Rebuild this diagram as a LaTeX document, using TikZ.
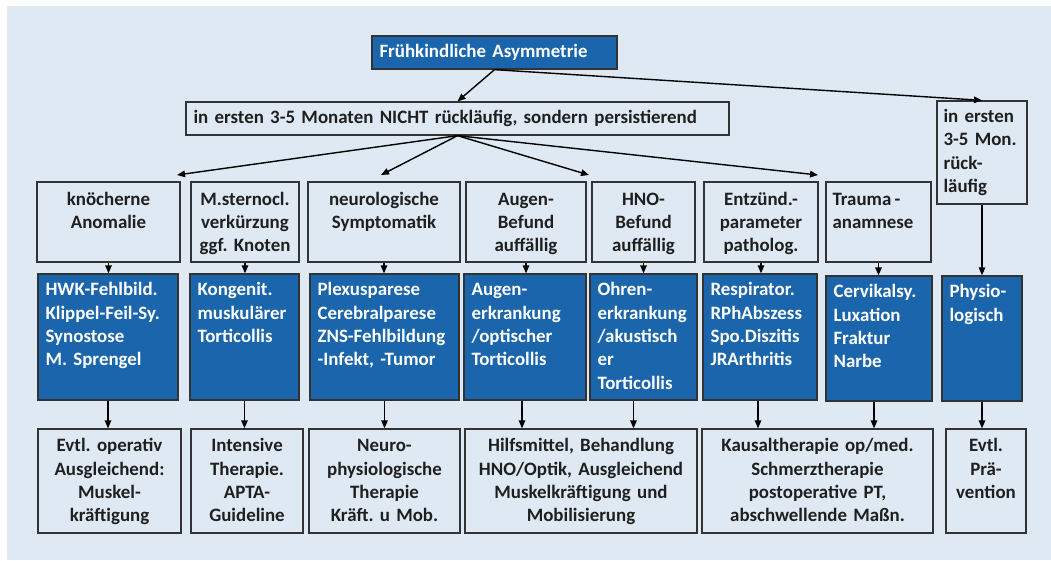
\documentclass[tikz,border=0pt]{standalone}
\usepackage{fontspec}
\setmainfont{Carlito}
\usetikzlibrary{arrows.meta,fit}
\definecolor{bgc}{HTML}{DFE9F3}
\definecolor{bluec}{HTML}{1A65AB}
\definecolor{edgec}{HTML}{333333}
\definecolor{txtc}{HTML}{1F1F1F}
\frenchspacing
\begin{document}
\begin{tikzpicture}[x=1pt,y=-1pt,
  font=\bfseries\fontsize{18.9}{23.3}\selectfont,
  frame/.style={draw=edgec, line width=1.3pt, inner sep=0pt},
  wbox/.style={frame},
  bbox/.style={frame, fill=bluec},
  arr/.style={-{Triangle[length=8pt,width=6.5pt]}, line width=1.4pt, draw=black},
  ctxt/.style={anchor=base, align=center, inner sep=0pt, text=txtc},
  ltxt/.style={anchor=base west, align=left, inner sep=0pt, text=txtc},
  wtxt/.style={anchor=base west, align=left, inner sep=0pt, text=white}]
\useasboundingbox (0,0) rectangle (1051,560);
\fill[white] (0,0) rectangle (1051,560);
\fill[bgc] (7,6) rectangle (1051,560);

% top
\node[bbox, fit={(372,36) (617,69)}] (title) {};
\node[wtxt, text width=235pt] (titlet) at ([xshift=8pt,yshift=-22.3pt]title.north west) {Frühkindliche Asymmetrie};
\node[wbox, fit={(186,102) (729,135)}] (sec) {};
\node[ltxt, text width=535pt] (sect) at ([xshift=8pt,yshift=-22pt]sec.north west) {in ersten 3-5 Monaten NICHT rückläufig, sondern persistierend};
\node[wbox, fit={(937,101) (1027,204)}] (rb) {};
\node[ltxt, text width=86pt] (rbt) at ([xshift=7pt,yshift=-22.3pt]rb.north west) {in ersten\\3-5 Mon.\\rück-\\läufig};

% category row
\node[wbox, fit={(37,182) (180,262)}] (c1) {};
\node[wbox, fit={(191,182) (299,262)}] (c2) {};
\node[wbox, fit={(308,182) (460,262)}] (c3) {};
\node[wbox, fit={(466,182) (586,262)}] (c4) {};
\node[wbox, fit={(592,182) (695,262)}] (c5) {};
\node[wbox, fit={(704,182) (818,262)}] (c6) {};
\node[wbox, fit={(826,182) (931,262)}] (c7) {};
\node[ctxt, text width=140pt] (c1t) at ([yshift=-23.7pt]c1.north) {knöcherne\\Anomalie};
\node[ctxt, text width=106pt] (c2t) at ([yshift=-23.7pt]c2.north) {M.sternocl.\\verkürzung\\ggf. Knoten};
\node[ctxt, text width=150pt] (c3t) at ([yshift=-23.7pt]c3.north) {neurologische\\Symptomatik};
\node[ctxt, text width=118pt] (c4t) at ([yshift=-23.7pt]c4.north) {Augen-\\Befund\\auffällig};
\node[ctxt, text width=101pt] (c5t) at ([yshift=-23.7pt]c5.north) {HNO-\\Befund\\auffällig};
\node[ctxt, text width=112pt] (c6t) at ([yshift=-23.7pt]c6.north) {Entzünd.-\\parameter\\patholog.};
\node[ltxt, text width=97pt] (c7t) at ([xshift=7pt,yshift=-23.7pt]c7.north west) {Trauma\,-\\anamnese};

% blue row
\node[bbox, fit={(38,274) (178,400)}] (b1) {};
\node[bbox, fit={(190,274) (299,400)}] (b2) {};
\node[bbox, fit={(310,274) (459,400)}] (b3) {};
\node[bbox, fit={(464,274) (586,400)}] (b4) {};
\node[bbox, fit={(590,274) (697,400)}] (b5) {};
\node[bbox, fit={(703,274) (817,400)}] (b6) {};
\node[bbox, fit={(826,276) (932,401)}] (b7) {};
\node[bbox, fit={(942,276) (1022,401)}] (b8) {};
\node[wtxt, text width=132pt] (b1t) at ([xshift=8pt,yshift=-22.5pt]b1.north west) {HWK-Fehlbild.\\Klippel-Feil-Sy.\\Synostose\\M. Sprengel};
\node[wtxt, text width=101pt] (b2t) at ([xshift=8pt,yshift=-22.5pt]b2.north west) {Kongenit.\\muskulärer\\Torticollis};
\node[wtxt, text width=141pt] (b3t) at ([xshift=8pt,yshift=-22.5pt]b3.north west) {Plexusparese\\Cerebralparese\\ZNS-Fehlbildung\\-Infekt, -Tumor};
\node[wtxt, text width=114pt] (b4t) at ([xshift=8pt,yshift=-22.5pt]b4.north west) {Augen-\\erkrankung\\/optischer\\Torticollis};
\node[wtxt, text width=99pt] (b5t) at ([xshift=8pt,yshift=-22.5pt]b5.north west) {Ohren-\\erkrankung\\/akustisch\\er\\Torticollis};
\node[wtxt, text width=106pt] (b6t) at ([xshift=8pt,yshift=-22.5pt]b6.north west) {Respirator.\\RPhAbszess\\Spo.Diszitis\\JRArthritis};
\node[wtxt, text width=98pt] (b7t) at ([xshift=8pt,yshift=-22.5pt]b7.north west) {Cervikalsy.\\Luxation\\Fraktur\\Narbe};
\node[wtxt, text width=72pt] (b8t) at ([xshift=8pt,yshift=-22.5pt]b8.north west) {Physio-\\logisch};

% bottom row
\node[wbox, fit={(38,429) (181,533)}] (d1) {};
\node[wbox, fit={(191,429) (303,533)}] (d2) {};
\node[wbox, fit={(309,429) (460,533)}] (d3) {};
\node[wbox, fit={(465,429) (697,533)}] (d4) {};
\node[wbox, fit={(702,429) (933,533)}] (d5) {};
\node[wbox, fit={(946,429) (1026,533)}] (d6) {};
\node[ctxt, text width=143pt] (d1t) at ([yshift=-23.5pt]d1.north) {Evtl. operativ\\Ausgleichend:\\Muskel-\\kräftigung};
\node[ctxt, text width=112pt] (d2t) at ([yshift=-23.5pt]d2.north) {Intensive\\Therapie.\\APTA-\\Guideline};
\node[ctxt, text width=151pt] (d3t) at ([yshift=-23.5pt]d3.north) {Neuro-\\physiologische\\Therapie\\Kräft. u Mob.};
\node[ctxt, text width=232pt] (d4t) at ([yshift=-23.5pt]d4.north) {Hilfsmittel, Behandlung\\HNO/Optik, Ausgleichend\\Muskelkräftigung und\\Mobilisierung};
\node[ctxt, text width=231pt] (d5t) at ([yshift=-23.5pt]d5.north) {Kausaltherapie op/med.\\Schmerztherapie\\postoperative PT,\\abschwellende Maßn.};
\node[ctxt, text width=80pt] (d6t) at ([yshift=-23.5pt]d6.north) {Evtl.\\Prä-\\vention};

% connectors
\coordinate (t1) at (177,175);
\coordinate (t2) at (381,175);
\coordinate (t3) at (589,175);
\coordinate (t4) at (818,175);
\draw[arr] (title.south) -- (sec.north);
\draw[arr] (title.south) -- (rb.north);
\foreach \t in {t1,t2,t3,t4} \draw[arr] (sec.south) -- (\t);
\foreach \i in {1,...,7} \draw[arr] (c\i.south) -- (c\i.south |- b\i.north);
\draw[arr] (rb.south) -- (rb.south |- b8.north);
\draw[arr] (b1.south) -- (b1.south |- d1.north);
\draw[arr] (b2.south) -- (b2.south |- d2.north);
\draw[arr] (b3.south) -- (b3.south |- d3.north);
\draw[arr] ([xshift=-3pt]b4.south) -- ([xshift=-3pt]b4.south |- d4.north);
\draw[arr] ([xshift=-10pt]b5.south) -- ([xshift=-10pt]b5.south |- d4.north);
\draw[arr] ([xshift=-2pt]b6.south) -- ([xshift=-2pt]b6.south |- d5.north);
\draw[arr] ([xshift=-5pt]b7.south) -- ([xshift=-5pt]b7.south |- d5.north);
\draw[arr] (b8.south) -- (b8.south |- d6.north);
\end{tikzpicture}
\end{document}
